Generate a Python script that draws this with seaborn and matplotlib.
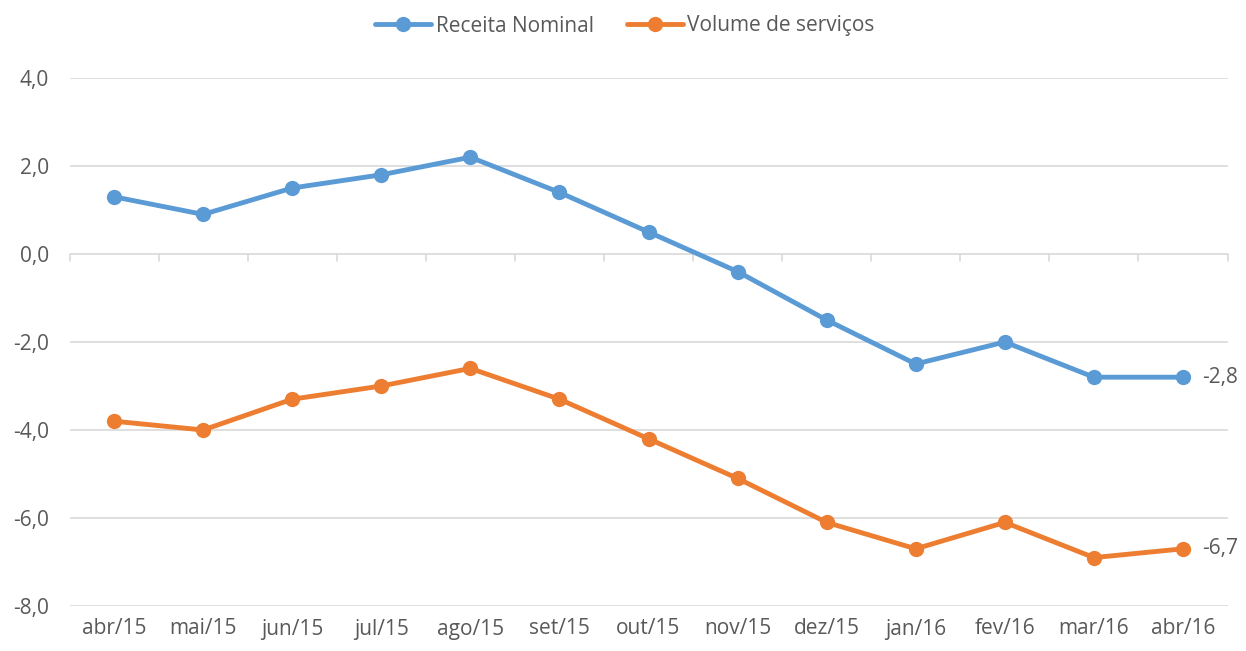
import matplotlib
matplotlib.use("Agg")
import matplotlib.pyplot as plt
import pandas as pd
import seaborn as sns

# Data
months = ["abr/15", "mai/15", "jun/15", "jul/15", "ago/15", "set/15", "out/15",
          "nov/15", "dez/15", "jan/16", "fev/16", "mar/16", "abr/16"]
receita_nominal = [1.3, 0.9, 1.5, 1.8, 2.2, 1.4, 0.5, -0.4, -1.5, -2.5, -2.0, -2.8, -2.8]
volume_servicos = [-3.8, -4.0, -3.3, -3.0, -2.6, -3.3, -4.2, -5.1, -6.1, -6.7, -6.1, -6.9, -6.7]
series_names = ["Receita Nominal", "Volume de serviços"]
colors = ["#5B9BD5", "#ED7D31"]
yticks = [4, 2, 0, -2, -4, -6, -8]

df = pd.DataFrame({
    "mes": months * 2,
    "valor": receita_nominal + volume_servicos,
    "serie": [series_names[0]] * len(months) + [series_names[1]] * len(months),
})

sns.set_style("white")
plt.rcParams["font.family"] = ["Open Sans", "DejaVu Sans"]
text_color = "#595959"
grid_color = "#D9D9D9"
fs = 15

fig = plt.figure(figsize=(12.46, 6.51), dpi=100)
ax = fig.add_axes([69.5 / 1246, 1 - 606 / 651, (1227.5 - 69.5) / 1246, (606 - 78) / 651])

sns.lineplot(data=df, x="mes", y="valor", hue="serie", palette=colors,
             marker="o", markersize=11, markeredgewidth=0, linewidth=3.5,
             ax=ax, legend=True)

ax.set_xlim(-0.5, len(months) - 0.5)
ax.set_ylim(-8, 4)
ax.set_yticks(yticks)
ax.set_yticklabels([f"{v:.1f}".replace(".", ",") for v in yticks])
ax.yaxis.grid(True, color=grid_color, linewidth=1.2)
ax.xaxis.grid(False)
for s in ax.spines.values():
    s.set_visible(False)
ax.tick_params(axis="both", length=0, labelsize=fs, labelcolor=text_color)
ax.tick_params(axis="y", pad=15)
ax.tick_params(axis="x", pad=9)
ax.set_xlabel("")
ax.set_ylabel("")

# category tick marks on the zero line
for i in range(len(months) + 1):
    ax.plot([i - 0.5, i - 0.5], [0, -0.15], color=grid_color, linewidth=1.2,
            clip_on=False, zorder=1)

# end labels
ax.annotate(f"{receita_nominal[-1]:.1f}".replace(".", ","),
            (len(months) - 1, receita_nominal[-1]), xytext=(14, 0),
            textcoords="offset points", va="center", fontsize=fs, color=text_color)
ax.annotate(f"{volume_servicos[-1]:.1f}".replace(".", ","),
            (len(months) - 1, volume_servicos[-1]), xytext=(14, 0),
            textcoords="offset points", va="center", fontsize=fs, color=text_color)

handles, labels = ax.get_legend_handles_labels()
leg = fig.legend(handles, labels, loc="center", bbox_to_anchor=(625 / 1246, 1 - 26 / 651),
                 ncol=2, frameon=False, fontsize=fs, handlelength=2.7,
                 columnspacing=1.6, handletextpad=0.2)
for t in leg.get_texts():
    t.set_color(text_color)
ax.get_legend().remove()

fig.savefig("out.png", dpi=100)
